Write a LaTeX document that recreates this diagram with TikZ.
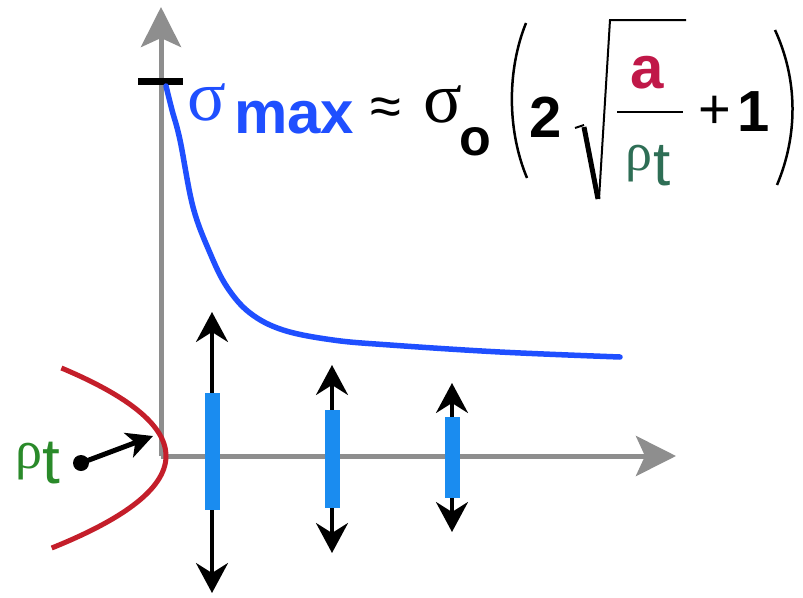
\documentclass[tikz,border=0pt]{standalone}
\usepackage{fontspec}
\setmainfont{Liberation Sans}
\newfontfamily\grk{Liberation Serif}
\usetikzlibrary{arrows.meta}
\definecolor{axgray}{HTML}{8E8E8E}
\definecolor{curveblue}{HTML}{1F4FFF}
\definecolor{barblue}{HTML}{1A8CF0}
\definecolor{crvred}{HTML}{C41E2A}
\definecolor{lblgreen}{HTML}{2A8A2A}
\definecolor{fracgreen}{HTML}{2E6E55}
\definecolor{acrimson}{HTML}{C01848}
\newcommand{\fs}[1]{\fontsize{#1pt}{#1pt}\selectfont}
\begin{document}
\begin{tikzpicture}[x=1pt,y=-1pt,
  txt/.style={anchor=base west, inner sep=0pt, outer sep=0pt},
  axis/.style={axgray, line width=5pt, -{Stealth[length=40pt,width=40pt,inset=9pt]}},
  dbl/.style={black, line width=3.5pt, {Stealth[length=30pt,width=32pt,inset=10pt]}-{Stealth[length=30pt,width=32pt,inset=10pt]}},
  bar/.style={barblue, line width=15pt}]
\fill[white] (0,0) rectangle (803,597);
\useasboundingbox (0,0) rectangle (803,597);
% axes
\coordinate (O) at (161,456);
\coordinate (ytop) at (161,7);
\coordinate (xend) at (676,456);
\draw[axis] (O) -- (ytop);
\draw[axis] (O) -- (xend);
% tick
\coordinate (tickL) at (138,81);
\coordinate (tickR) at (183,81);
\draw[black, line width=7pt] (tickL) -- (tickR);
% blue curve
\draw[curveblue, line width=5.5pt, line cap=round] plot[smooth, tension=0.6] coordinates {
 (166,86) (172,110) (180,140) (193,207) (210,253) (227,287) (250,313) (283,330) (333,340) (390,345) (500,352) (620,357)};
% red parabola
\draw[crvred, line width=5pt] plot[domain=-88:92, samples=60, smooth] ({166-0.0135*\x*\x},{456+\x});
% double arrows with bars
\coordinate (a1t) at (212,312); \coordinate (a1b) at (212,593);
\coordinate (b1t) at (212,393); \coordinate (b1b) at (212,510);
\coordinate (a2t) at (332,365); \coordinate (a2b) at (332,553);
\coordinate (b2t) at (332,410); \coordinate (b2b) at (332,508);
\coordinate (a3t) at (452,383); \coordinate (a3b) at (452,532);
\coordinate (b3t) at (452,417); \coordinate (b3b) at (452,498);
\draw[dbl] (a1b) -- (a1t);
\draw[dbl] (a2b) -- (a2t);
\draw[dbl] (a3b) -- (a3t);
\draw[bar] (b1t) -- (b1b);
\draw[bar] (b2t) -- (b2b);
\draw[bar] (b3t) -- (b3b);
% rho_t label and arrow
\node[txt, lblgreen, font=\grk\fs{54}] (rholbl) at (15,468) {ρ};
\node[txt, lblgreen, font=\fs{64}] (tlbl) at (42,483) {t};
\node[circle, fill=black, inner sep=0pt, minimum size=16pt] (dot) at (81,463) {};
\coordinate (ptip) at (153,436);
\draw[black, line width=5pt, -{Stealth[length=26pt,width=26pt,inset=7pt]}] (dot.center) -- (ptip);
% formula
\node[txt, curveblue, font=\grk\fs{72}] (sig1) at (187,120) {σ};
\node[txt, curveblue, font=\bfseries\fs{60}] (max) at (234,133) {max};
\node[anchor=center, inner sep=0pt, font=\fs{56}] (approx) at (386,112) {≈};
\node[txt, font=\grk\fs{72}] (sig2) at (423,122) {σ};
\node[txt, font=\bfseries\fs{52}] (osub) at (459,155) {o};
\draw[line width=2.5pt] (526,23) .. controls (507,70) and (507,130) .. (527,178);
\node[txt, font=\bfseries\fs{58}] (two) at (529,137) {2};
% radical
\draw[line width=2pt] (575,128) -- (584,125);
\draw[line width=5pt] (584,127) -- (598,199);
\draw[line width=2pt] (599,199) -- (610,20) -- (686,20);
\node[txt, acrimson, font=\bfseries\fs{60}] (anum) at (630,88) {a};
\draw[line width=2pt] (617,112) -- (683,112);
\node[txt, fracgreen, font=\grk\fs{54}] (rhof) at (625,170) {ρ};
\node[txt, fracgreen, font=\fs{62}] (tf) at (653,185) {t};
\node[anchor=center, inner sep=0pt, font=\fs{56}] (plus) at (715,112) {+};
\node[txt, font=\bfseries\fs{58}] (one) at (737,131) {1};
\draw[line width=2.5pt] (775,30) .. controls (798,80) and (798,135) .. (777,185);
\end{tikzpicture}
\end{document}
